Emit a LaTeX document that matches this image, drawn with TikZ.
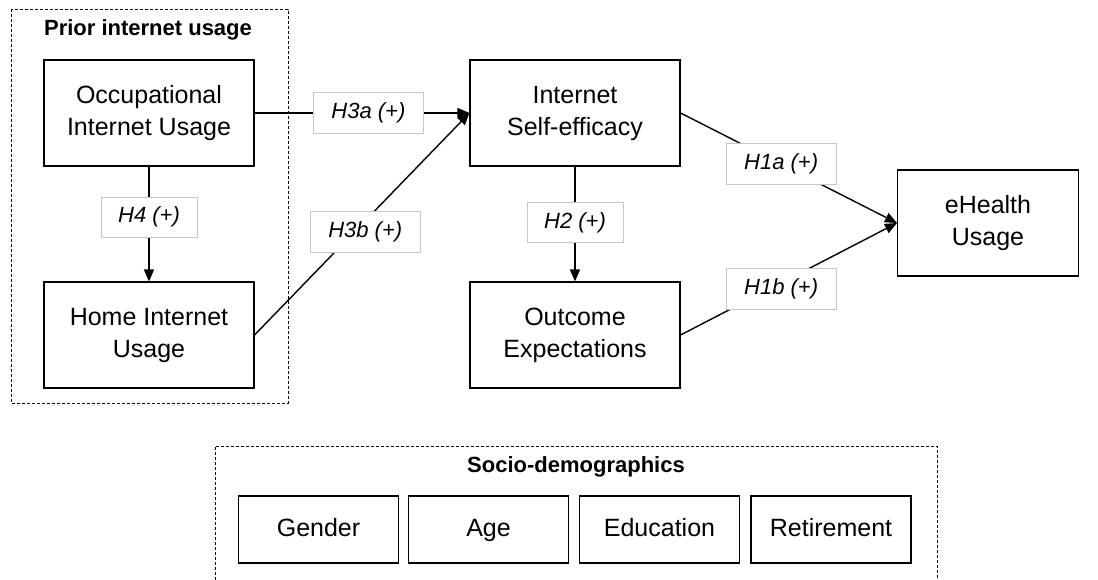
\documentclass[tikz,border=0pt]{standalone}
\usepackage{fontspec}
\setmainfont{Liberation Sans}
\usetikzlibrary{arrows.meta}
\tikzset{%
	construct/.style={
		rectangle,
		draw,
		line width=1.1pt,
		minimum width=210pt,
		minimum height=106pt,
		align=center,
		font=\fontsize{25}{32}\selectfont
	},
	demographic/.style={
		construct,
		minimum width=160pt,
		minimum height=67pt,
		text height=18pt,
		text depth=5pt
	},
	hypothesis/.style={
		rectangle,
		draw=black!22,
		fill=white,
		line width=0.8pt,
		minimum width=110pt,
		minimum height=41pt,
		text height=16pt,
		text depth=5pt,
		font=\fontsize{22}{26}\selectfont\itshape
	},
	group frame/.style={
		draw,
		dashed,
		dash pattern=on 3pt off 2pt,
		line width=0.7pt
	},
	path/.style={
		line width=1.4pt
	},
	path arrow/.style={
		path,
		-{Triangle[length=12pt,width=10pt]}
	},
}
\begin{document}
\begin{tikzpicture}[x=1pt,y=-1pt]
				\clip (0,0) rectangle (1098,580);
				
				% grouping frames
				\draw[group frame] (11,9) rectangle (288,403);
				\node[font=\fontsize{22}{26}\selectfont\bfseries] (prior) at (148,30) {Prior internet usage};
				\draw[group frame] (215,600) -- (215,446) -- (937,446) -- (937,600);
				\node[font=\fontsize{22}{26}\selectfont\bfseries] (socio) at (576,467) {Socio-demographics};
				
				% constructs
				\node[construct] (occupational) at (149,113) {Occupational\\Internet Usage};
				\node[construct] (home) at (149,335) {Home Internet\\Usage};
				\node[construct] (selfefficacy) at (575,113) {Internet\\Self-efficacy};
				\node[construct] (outcome) at (575,335) {Outcome\\Expectations};
				\node[construct, minimum width=181pt] (ehealth) at (988,223) {eHealth\\Usage};
				
				\node[demographic] (gender) at (318.5,529.5) {Gender};
				\node[demographic] (age) at (488.5,529.5) {Age};
				\node[demographic] (education) at (659.5,529.5) {Education};
				\node[demographic] (retirement) at (831,529.5) {Retirement};
				
				% hypotheses
				\draw[path arrow] (occupational) -- node[hypothesis, minimum width=96pt, minimum height=40pt, pos=0.44] (h4) {H4 (+)} (home);
				\draw[path arrow] (occupational.east) -- node[hypothesis, pos=0.53] (h3a) {H3a (+)} (selfefficacy.west);
				\draw[path arrow] (home.east) -- node[hypothesis, pos=0.464, xshift=11pt] (h3b) {H3b (+)} (selfefficacy.west);
				\draw[path arrow] (selfefficacy) -- node[hypothesis, minimum width=96pt, minimum height=40pt, pos=0.49] (h2) {H2 (+)} (outcome);
				\draw[path arrow] (selfefficacy.east) -- node[hypothesis, pos=0.465] (h1a) {H1a (+)} (ehealth.west);
				\draw[path arrow] (outcome.east) -- node[hypothesis, pos=0.465, yshift=-6pt] (h1b) {H1b (+)} (ehealth.west);
				
			\end{tikzpicture}
\end{document}
